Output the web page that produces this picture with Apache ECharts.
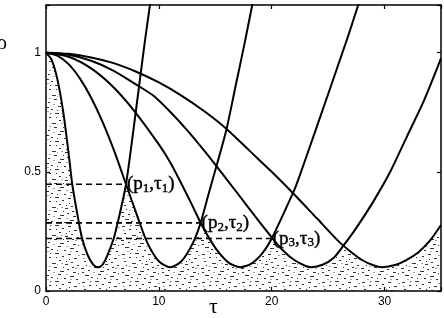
<!DOCTYPE html>
<html><head><meta charset="utf-8">
<script src="https://cdn.jsdelivr.net/npm/echarts@6/dist/echarts.min.js"></script>
<style>html,body{margin:0;padding:0;background:#fff}#c{width:444px;height:318px}</style>
</head><body><div id="c"></div>
<script>
// ---- data ----
const c1Tau = [0,0.5,1.0,1.5,2.0,2.32,2.9,3.2,3.7,4.2,4.6,5.0,5.4,6.0,6.35,7.09,7.95,8.74,9.3];
const c1Rho = [1,0.97,0.89,0.76,0.58,0.45,0.29,0.22,0.15,0.11,0.1,0.11,0.145,0.22,0.286,0.448,0.75,1.04,1.23];
const c2Tau = [0,1,2,3,4,5,6,7.09,8.3,9,10,11,12,13,13.7,14.4,15.2,16.0,16.8,17.6,18.4];
const c2Rho = [1,0.988,0.952,0.892,0.811,0.711,0.593,0.448,0.286,0.2,0.125,0.1,0.125,0.2,0.286,0.406,0.54,0.68,0.86,1.04,1.23];
const c3Tau = [0,2,4,6,7.9,10,11,12,13,13.7,14.4,15.2,16.2,17.2,18.2,19.2,20,21.9,22.3,24,26.7,27.8];
const c3Rho = [1,0.983,0.934,0.854,0.751,0.615,0.54,0.45,0.355,0.286,0.226,0.168,0.118,0.1,0.115,0.16,0.22,0.413,0.46,0.69,1.06,1.22];
const c4Tau = [0,2,4,6,8,9.5,11,12.5,14,15.5,17,18.5,20,21,22,23,23.5,24.5,25.5,26.3,27.5,29,30.5,32,33.5,35];
const c4Rho = [1,0.991,0.966,0.924,0.866,0.82,0.752,0.675,0.59,0.5,0.408,0.315,0.225,0.17,0.13,0.105,0.1,0.11,0.14,0.187,0.265,0.375,0.5,0.65,0.8,0.976];
const c5Tau = [0,2,4,6,8,10,12,14,16,18,20,22,24,26,27,28,29,29.8,31,32,33,34,35];
const c5Rho = [1,0.995,0.98,0.956,0.92,0.875,0.82,0.755,0.68,0.59,0.5,0.405,0.305,0.205,0.165,0.13,0.108,0.1,0.11,0.132,0.163,0.21,0.277];

const crossTau = [7.09, 13.7, 20];
const crossRho = [0.448, 0.286, 0.22];
const crossIdx = ['1','2','3'];

const xTicks = [0,10,20,30];
const yTicks = [0,0.5,1];
const yTickText = ['0','0.5','1'];

// ---- helpers ----
const curves = [[c1Tau,c1Rho],[c2Tau,c2Rho],[c3Tau,c3Rho],[c4Tau,c4Rho],[c5Tau,c5Rho]];
function interp(ts, rs, t){
  if (t < ts[0] || t > ts[ts.length-1]) return Infinity;
  for (let i=1;i<ts.length;i++){
    if (t <= ts[i]) { const f=(t-ts[i-1])/(ts[i]-ts[i-1]); return rs[i-1]+f*(rs[i]-rs[i-1]); }
  }
  return Infinity;
}
const env = [];
for (let k=0;k<=350;k++){
  const t = k/10;
  let m = Infinity;
  curves.forEach(c=>{ m = Math.min(m, interp(c[0],c[1],t)); });
  if (isFinite(m)) env.push([t, Math.min(m,1.2)]);
}

// speckle texture tile
const tile = document.createElement('canvas');
tile.width = 40; tile.height = 28;
const g = tile.getContext('2d');
g.fillStyle = 'rgba(0,0,0,0.8)';
const marks = [[2,2,3],[9,5,2],[15,1,4],[22,4,2],[28,2,3],[34,6,3],[4,9,2],[12,11,4],[19,8,2],[25,12,3],[31,10,2],[37,13,2],
  [1,16,3],[8,18,2],[14,15,3],[20,19,4],[27,17,2],[33,20,3],[5,23,4],[11,25,2],[18,22,3],[24,26,2],[30,24,4],[36,27,2],
  [6,13,1],[17,26,1],[29,7,1],[38,21,1],[23,15,1],[10,1,1],[32,15,2],[16,5,1],[2,20,2],[26,9,1]];
marks.forEach(m=>g.fillRect(m[0],m[1],m[2],1));
g.fillStyle = 'rgba(0,0,0,0.35)';
[[3,6,2],[13,20,2],[26,22,2],[35,16,2],[21,11,2],[7,27,2],[38,3,2],[9,14,2],[30,27,2],[17,12,1]].forEach(m=>g.fillRect(m[0],m[1],m[2],1));

const axisLine = {show:true,onZero:false,lineStyle:{color:'#000',width:1.5}};
const axisTick = {show:true,inside:true,length:4,lineStyle:{color:'#000',width:1.2}};

const series = [];
series.push({type:'line',data:env,showSymbol:false,silent:true,z:1,
  lineStyle:{width:0},areaStyle:{color:{image:tile,repeat:'repeat'},opacity:1}});
crossTau.forEach((t,i)=>{
  series.push({type:'line',data:[[0,crossRho[i]],[t,crossRho[i]]],showSymbol:false,silent:true,z:2,
    lineStyle:{color:'#000',width:1.6,type:[6,4]}});
});
curves.forEach(c=>{
  series.push({type:'line',data:c[0].map((t,i)=>[t,c[1][i]]),showSymbol:false,smooth:0.25,clip:true,z:3,
    lineStyle:{color:'#000',width:2}});
});
series.push({type:'scatter',symbolSize:0,z:4,itemStyle:{opacity:1},
  data:crossTau.map((t,i)=>({value:[t,crossRho[i]],idx:crossIdx[i]})),
  label:{show:true,position:'right',distance:1,color:'#000',
    formatter:p=>'{a|(p}{s|'+p.data.idx+'}{a|,τ}{s|'+p.data.idx+'}{a|)}',
    rich:{a:{fontFamily:'Liberation Serif',fontSize:19,color:'#000',lineHeight:20,textBorderColor:'#000',textBorderWidth:0.4},
          s:{fontFamily:'Liberation Serif',fontSize:13,color:'#000',padding:[9,0,0,0],textBorderColor:'#000',textBorderWidth:0.4}}}});

const chart = echarts.init(document.getElementById('c'),null,{renderer:'canvas'});
chart.setOption({
  animation:false,
  backgroundColor:'#fff',
  grid:{left:46,right:1,top:5,bottom:27,containLabel:false},
  xAxis:[
    {type:'value',min:0,max:35,interval:10,position:'bottom',axisLine,axisTick,splitLine:{show:false},
     axisLabel:{color:'#000',fontSize:12,fontFamily:'Liberation Sans',margin:5,
       formatter:v=>xTicks.includes(v)?String(v):''}},
    {type:'value',min:0,max:35,interval:10,position:'top',axisLine,axisTick,splitLine:{show:false},axisLabel:{show:false}}
  ],
  yAxis:[
    {type:'value',min:0,max:1.2,interval:0.5,position:'left',axisLine,axisTick,splitLine:{show:false},
     axisLabel:{color:'#000',fontSize:12,fontFamily:'Liberation Sans',margin:5,
       formatter:v=>{const i=yTicks.indexOf(v);return i>=0?yTickText[i]:'';}}},
    {type:'value',min:0,max:1.2,interval:0.5,position:'right',axisLine,axisTick,splitLine:{show:false},axisLabel:{show:false}}
  ],
  graphic:[
    {type:'text',left:-3,top:34,style:{text:'ρ',font:'20px "Liberation Serif"',fill:'#000'}},
    {type:'text',left:209,top:296,style:{text:'τ',font:'22px "Liberation Serif"',fill:'#000'}}
  ],
  series
});
</script></body></html>
